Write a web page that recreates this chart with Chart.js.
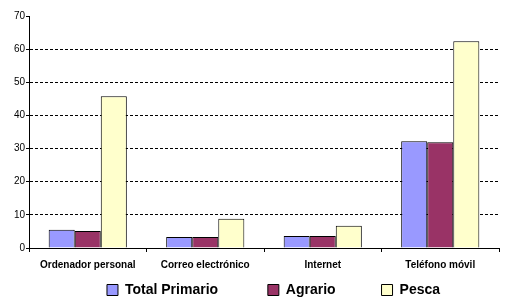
<!DOCTYPE html>
<html>
<head>
<meta charset="utf-8">
<script src="https://cdn.jsdelivr.net/npm/chart.js@4/dist/chart.umd.min.js"></script>
<style>
  html, body { margin: 0; padding: 0; background: #fff; }
  #wrap { width: 506px; height: 304px; }
</style>
</head>
<body>
<div id="wrap"><canvas id="chart" width="506" height="304"></canvas></div>
<script>
// data
const categories = ["Ordenador personal", "Correo electrónico", "Internet", "Teléfono móvil"];
const totalPrimario = [5.5, 3.3, 3.6, 32.2];
const agrario = [5.1, 3.3, 3.6, 31.9];
const pesca = [45.8, 8.8, 6.7, 62.4];
const yTicks = [0, 10, 20, 30, 40, 50, 60, 70];

const font = "Arial, 'Liberation Sans', sans-serif";

function ds(label, data, color) {
  return {
    label: label,
    data: data,
    backgroundColor: color,
    borderColor: "#000",
    borderWidth: 1,
    borderSkipped: "bottom",
    categoryPercentage: 0.665,
    barPercentage: 1.0
  };
}

// legend in the original sits a bit right of centre
const legendShift = {
  id: "legendShift",
  afterLayout(chart) {
    const lg = chart.legend;
    if (!lg) return;
    lg.left += 24;
    lg.right += 24;
  }
};

new Chart(document.getElementById("chart").getContext("2d"), {
  type: "bar",
  data: {
    labels: categories,
    datasets: [
      ds("Total Primario", totalPrimario, "#9999ff"),
      ds("Agrario", agrario, "#993366"),
      ds("Pesca", pesca, "#ffffcc")
    ]
  },
  plugins: [legendShift],
  options: {
    responsive: false,
    animation: false,
    layout: { padding: { top: 16, right: 7, left: 0, bottom: -3 } },
    scales: {
      x: {
        grid: {
          offset: true,
          drawOnChartArea: false,
          color: "#000",
          tickLength: 4
        },
        border: { color: "#000", width: 1 },
        ticks: {
          color: "#000",
          font: { family: font, size: 10, weight: "bold" },
          padding: 7,
          maxRotation: 0
        },
        afterFit: function (s) { s.height = 28; }
      },
      y: {
        min: 0,
        max: 70,
        afterBuildTicks: function (s) {
          s.ticks = yTicks.map(v => ({ value: v }));
        },
        grid: {
          color: ctx => (ctx.tick && (ctx.tick.value === 0 || ctx.tick.value === 70)) ? "rgba(0,0,0,0)" : "#000",
          tickColor: "#000",
          tickBorderDash: [],
          tickLength: 3,
          lineWidth: 1
        },
        border: { color: "#000", width: 1, dash: [3, 2] },
        ticks: {
          color: "#000",
          font: { family: font, size: 10 },
          padding: 1
        },
        afterFit: function (s) { s.width = 29; }
      }
    },
    plugins: {
      legend: {
        position: "bottom",
        labels: {
          color: "#000",
          font: { family: font, size: 14, weight: "bold" },
          boxWidth: 11,
          boxHeight: 11,
          padding: 7,
          generateLabels: function (chart) {
            const items = Chart.defaults.plugins.legend.labels.generateLabels(chart);
            // wide gaps between entries, as in the original
            const gaps = ["           ", "          ", ""];
            items.forEach((it, i) => { it.text = it.text + gaps[i]; it.lineWidth = 1; it.strokeStyle = "#000"; });
            return items;
          }
        }
      },
      tooltip: { enabled: false }
    }
  }
});
</script>
</body>
</html>
